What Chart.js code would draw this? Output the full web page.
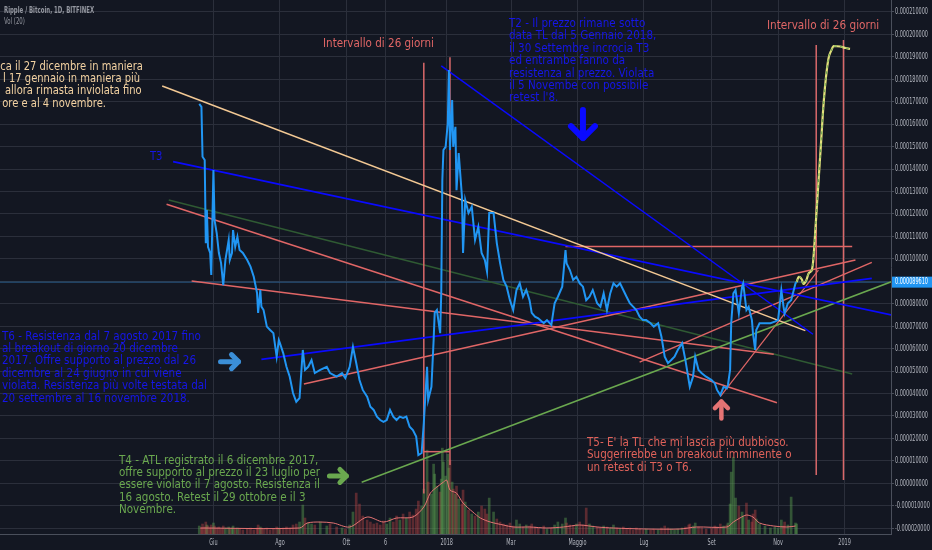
<!DOCTYPE html>
<html>
<head>
  <meta charset="UTF-8" />
  <title>Ripple / Bitcoin, 1D, BITFINEX</title>
  <style>
    html, body {
      margin: 0;
      padding: 0;
      background-color: #131722;
      overflow: hidden;
    }
    #wrap {
      position: relative;
      width: 932px;
      height: 550px;
      overflow: hidden;
    }
    canvas {
      position: absolute;
      left: 0;
      top: 0;
    }
    .note {
      position: absolute;
      white-space: pre;
      font-family: "DejaVu Sans", sans-serif;
      font-size: 12px;
      line-height: 12.4px;
      transform: scaleX(0.865);
      transform-origin: 0 0;
    }
    .right {
      text-align: right;
      transform: scaleX(0.83);
      transform-origin: 100% 0;
    }
    .hdr {
      position: absolute;
      white-space: pre;
      font-family: "DejaVu Sans", sans-serif;
      font-size: 9px;
      color: #9598a1;
      transform: scaleX(0.6);
      transform-origin: 0 0;
    }
  </style>
  <script src="https://cdn.jsdelivr.net/npm/chart.js"></script>
</head>
<body>

<div id="wrap">
  <canvas id="chart" width="932" height="550"></canvas>

  <div class="hdr" style="left:4px; top:5px; font-weight:bold;">Ripple / Bitcoin, 1D, BITFINEX</div>
  <div class="hdr" style="left:4px; top:16px;">Vol (20)</div>

  <!-- cream note, cut at the left border -->
  <div class="note right" style="right:789px; top:59.8px; color:#f3d2a2;">ca il 27 dicembre in maniera</div>
  <div class="note right" style="right:792px; top:72.2px; color:#f3d2a2;">l 17 gennaio in maniera più</div>
  <div class="note right" style="right:790px; top:84.4px; color:#f3d2a2;">allora rimasta inviolata fino</div>
  <div class="note right" style="right:826px; top:96.6px; color:#f3d2a2;">ore e al 4 novembre.</div>

  <div class="note" style="left:509px; top:17px; color:#1616e8;">T2 - Il prezzo rimane sotto
data TL dal 5 Gennaio 2018,
il 30 Settembre incrocia T3
ed entrambe fanno da
resistenza al prezzo. Violata
il 5 Novembe con possibile
retest l'8.</div>

  <div class="note" style="left:150px; top:150px; font-size:13px; color:#1616e8; transform:scaleX(0.77);">T3</div>

  <div class="note" style="left:2px; top:329.5px; color:#1616e8;">T6 - Resistenza dal 7 agosto 2017 fino
al breakout di giorno 20 dicembre
2017. Offre supporto al prezzo dal 26
dicembre al 24 giugno in cui viene
violata. Resistenza più volte testata dal
20 settembre al 16 novembre 2018.</div>

  <div class="note" style="left:119px; top:453.8px; line-height:12.3px; color:#6aa84f;">T4 - ATL registrato il 6 dicembre 2017,
offre supporto al prezzo il 23 luglio per
essere violato il 7 agosto. Resistenza il
16 agosto. Retest il 29 ottobre e il 3
Novembre.</div>

  <div class="note" style="left:587px; top:435.5px; line-height:12.5px; color:#e0625a;">T5- E' la TL che mi lascia più dubbioso.
Suggerirebbe un breakout imminente o
un retest di T3 o T6.</div>

  <div class="note" style="left:322.7px; top:37px; font-size:12.5px; color:#e06666; transform:scaleX(0.83);">Intervallo di 26 giorni</div>
  <div class="note" style="left:767px; top:19px; font-size:12.5px; color:#e06666; transform:scaleX(0.84);">Intervallo di 26 giorni</div>
</div>

<script>
// ---- price (XRP/BTC, satoshi) ----
const priceDates = [
  "2017-05-19","2017-05-21","2017-05-22","2017-05-24","2017-05-25","2017-05-26","2017-05-27","2017-05-29","2017-05-30","2017-06-01",
  "2017-06-02","2017-06-04","2017-06-06","2017-06-08","2017-06-10","2017-06-12","2017-06-15","2017-06-16","2017-06-18","2017-06-19",
  "2017-06-21","2017-06-23","2017-06-25","2017-06-28","2017-07-02","2017-07-05","2017-07-08","2017-07-11","2017-07-12","2017-07-14",
  "2017-07-15","2017-07-17","2017-07-20","2017-07-23","2017-07-26","2017-07-29","2017-07-31","2017-08-01","2017-08-04","2017-08-07",
  "2017-08-10","2017-08-13","2017-08-16","2017-08-19","2017-08-22","2017-08-24","2017-08-27","2017-08-30","2017-09-02","2017-09-07",
  "2017-09-13","2017-09-16","2017-09-22","2017-09-27","2017-09-30","2017-10-04","2017-10-07","2017-10-10","2017-10-13","2017-10-16",
  "2017-10-20","2017-10-23","2017-10-26","2017-10-29","2017-11-01","2017-11-04","2017-11-07","2017-11-10","2017-11-13","2017-11-16",
  "2017-11-19","2017-11-22","2017-11-25","2017-11-28","2017-12-01","2017-12-04","2017-12-06","2017-12-09","2017-12-11","2017-12-14",
  "2017-12-15","2017-12-18","2017-12-20","2017-12-21","2017-12-23","2017-12-26","2017-12-27","2017-12-28","2017-12-29","2017-12-31",
  "2018-01-02","2018-01-03","2018-01-04","2018-01-06","2018-01-07","2018-01-09","2018-01-10","2018-01-12","2018-01-15","2018-01-16",
  "2018-01-18","2018-01-21","2018-01-24","2018-01-27","2018-01-30","2018-02-02","2018-02-05","2018-02-07","2018-02-09","2018-02-13",
  "2018-02-16","2018-02-19","2018-02-22","2018-02-25","2018-02-28","2018-03-03","2018-03-06","2018-03-09","2018-03-12","2018-03-15",
  "2018-03-18","2018-03-20","2018-03-23","2018-03-26","2018-03-31","2018-04-03","2018-04-07","2018-04-10","2018-04-13","2018-04-17",
  "2018-04-20","2018-04-21","2018-04-24","2018-04-27","2018-04-30","2018-05-03","2018-05-06","2018-05-09","2018-05-12","2018-05-15",
  "2018-05-19","2018-05-22","2018-05-25","2018-05-28","2018-05-31","2018-06-03","2018-06-06","2018-06-09","2018-06-12","2018-06-15",
  "2018-06-18","2018-06-21","2018-06-24","2018-06-27","2018-06-30","2018-07-03","2018-07-07","2018-07-10","2018-07-14","2018-07-17",
  "2018-07-20","2018-07-23","2018-07-26","2018-07-29","2018-08-01","2018-08-05","2018-08-08","2018-08-11","2018-08-12","2018-08-15",
  "2018-08-17","2018-08-20","2018-08-23","2018-08-27","2018-09-01","2018-09-04","2018-09-06","2018-09-09","2018-09-12","2018-09-15",
  "2018-09-16","2018-09-18","2018-09-19","2018-09-21","2018-09-23","2018-09-26","2018-09-29","2018-09-30","2018-10-03","2018-10-05",
  "2018-10-08","2018-10-09","2018-10-11","2018-10-12","2018-10-15","2018-10-20","2018-10-25","2018-10-29","2018-11-01","2018-11-04",
  "2018-11-06","2018-11-07","2018-11-10","2018-11-13","2018-11-17","2018-11-18"
];
const priceValues = [
  16900,16770,14550,14400,10700,12170,10540,10260,9280,13960,
  11730,11150,10260,9810,8830,9950,10840,9950,10260,11280,
  10540,10980,10390,10260,9950,9650,9200,8480,7590,8610,
  7870,7720,6980,6830,6690,5640,6380,6250,5800,5190,
  4750,4020,3630,3800,5940,5050,5190,5490,4910,5050,
  5190,4910,4750,4910,4690,5190,6080,5360,4600,4160,
  3860,3410,3270,2970,2820,2740,2820,3270,2970,2820,
  2970,2910,2970,2520,2370,2080,1260,1350,2690,5190,
  3710,4300,6380,7590,7720,6690,8480,13510,14850,14990,
  16050,18410,14850,17070,14990,15880,13060,14710,12770,10260,
  12620,12040,12320,10840,11430,10260,9950,9430,12040,12040,
  10690,9810,9060,8760,8160,7720,8610,8910,8310,8610,
  8160,7590,7420,7350,7130,7270,7050,8020,8310,8760,
  10390,9800,9500,9060,9200,8910,8760,8160,8310,8610,
  8020,7870,8460,7720,8460,8910,8760,8910,8610,8310,
  8020,7870,7720,7420,7270,7270,7130,6980,7130,6530,
  5640,5350,5490,5640,5940,6240,5490,4600,4300,4750,
  5640,5050,4900,4750,4600,4450,4160,3930,4300,4230,
  4380,5050,7130,8460,8610,7570,8760,8910,7720,7870,
  7270,6680,5940,6830,7130,7130,7130,7200,7270,8610,
  7870,7570,8020,8160,8910,8961
];
// volume (millions XRP), same days as the price
const volumeValues = [
  16,12,20,14,24,18,16,12,18,22,
  16,12,14,10,16,12,14,10,12,16,
  10,12,10,8,10,12,8,12,18,14,
  12,10,12,8,10,14,12,10,12,14,
  12,18,20,24,58,32,22,20,18,24,
  16,20,14,12,10,18,44,82,60,36,
  28,24,20,22,18,26,20,32,24,36,
  28,40,32,44,38,50,66,56,90,168,
  104,80,140,120,96,84,110,172,144,116,
  160,132,148,104,90,80,96,70,60,88,
  64,48,40,36,44,56,50,40,72,44,
  30,24,20,18,22,16,28,20,14,18,
  16,20,14,12,16,10,12,18,24,20,
  32,22,18,16,20,24,18,52,20,16,
  14,12,16,14,12,18,12,10,14,10,
  12,8,12,10,8,10,8,10,8,12,
  16,12,10,8,10,12,14,18,20,16,
  22,14,12,10,12,16,14,20,16,18,
  22,60,124,154,72,56,44,36,62,28,
  24,40,48,30,20,16,12,14,12,28,
  16,24,18,74,22,20
];
// Vol (20) moving average
const volMaDates = [
  "2017-05-20","2017-08-19","2017-08-26","2017-09-07","2017-09-19","2017-10-04","2017-10-20","2017-11-04","2017-11-16","2017-12-01",
  "2017-12-11","2017-12-17","2017-12-23","2017-12-29","2018-01-01","2018-01-04","2018-01-10","2018-01-16","2018-01-25","2018-02-01",
  "2018-02-10","2018-02-22","2018-03-03","2018-03-18","2018-04-03","2018-04-18","2018-05-03","2018-05-19","2018-06-03","2018-07-03",
  "2018-08-03","2018-08-18","2018-09-15","2018-09-21","2018-09-27","2018-10-03","2018-10-09","2018-10-15","2018-10-28","2018-11-09",
  "2018-11-17"
];
const volMaValues = [
  12,12,22,24,22,14,34,24,32,34,
  54,82,94,104,108,88,82,62,44,32,
  24,18,14,14,12,14,18,14,12,10,
  10,14,14,24,32,38,34,22,16,14,
  16
];

// hand-drawn projection after the last candle
const projDates = ["2018-11-18","2018-11-20","2018-11-23","2018-11-24","2018-11-27","2018-11-29","2018-12-01","2018-12-02","2018-12-03","2018-12-04",
                   "2018-12-05","2018-12-08","2018-12-10","2018-12-13","2018-12-17","2018-12-20","2018-12-22","2018-12-28","2019-01-02","2019-01-06"];
const projValues = [8961,9200,9060,8880,9060,9350,9430,9500,9800,10390,
                    11140,13380,14850,17070,18860,19300,19480,19460,19390,19350];

// trendlines: [date, satoshi] end points
const lineT1 = [["2017-04-15", 17700], ["2018-11-26", 6800]];
const lineT2 = [["2017-12-27", 18600], ["2018-12-03", 6640]];
const lineT3 = [["2017-04-25", 14330], ["2019-02-13", 7500]];
const lineT6 = [["2017-07-15", 5520], ["2019-01-26", 9130]];
const lineT4 = [["2017-10-15", 45], ["2019-02-13", 8980]];
const lineT5 = [["2018-09-09", 3860], ["2018-12-08", 9500]];
const lineDarkGreen = [["2017-04-21", 12620], ["2019-01-08", 4870]];
const lineRedA = [["2017-04-19", 12430], ["2018-10-31", 3590]];
const lineRedB = [["2017-05-12", 9010], ["2018-10-28", 5750]];
const lineRedC = [["2017-08-23", 4420], ["2019-01-11", 9950]];
const lineRedD = [["2018-06-27", 5400], ["2019-01-26", 9840]];
const lineRedFlat = [["2018-04-20", 10550], ["2019-01-08", 10550]];
// the two "26 giorni" intervals
const gapLeftStart = [["2017-12-11", 18730], ["2017-12-11", -450]];
const gapLeftEnd = [["2018-01-04", 18980], ["2018-01-04", 820]];
const gapLeftBase = [["2017-12-11", 1410], ["2018-01-04", 1410]];
const gapRightStart = [["2018-12-06", 19520], ["2018-12-06", 370]];
const gapRightEnd = [["2018-12-31", 19750], ["2018-12-31", 150]];

const lastPrice = 8961;
const lastPriceSpan = ["2016-11-17", "2019-02-13"];

// arrows: tip date and value
const arrowDates = ["2018-05-06", "2017-06-24", "2017-10-01", "2018-09-10"];
const arrowValues = [15380, 5420, 330, 3640];

// axes
const xTickDates = ["2017-06-01","2017-08-01","2017-10-01","2017-11-06","2018-01-01","2018-03-01","2018-05-01","2018-07-01","2018-09-01","2018-11-01","2019-01-01"];
const xTickLabels = ["Giu","Ago","Ott","6","2018","Mar","Maggio","Lug","Set","Nov","2019"];
const yTicks = [-2000,-1000,0,1000,2000,3000,4000,5000,6000,7000,8000,9000,10000,11000,12000,13000,14000,15000,16000,17000,18000,19000,20000,21000];

// ---- helpers ----
const DAY_MS = 864e5;
const BASE = Date.UTC(2018, 0, 1);
function day(s) {
    const [y, m, d] = s.split("-").map(Number);
    return (Date.UTC(y, m - 1, d) - BASE) / DAY_MS;
}
function pts(pairs) {
    return pairs.map(p => ({ x: day(p[0]), y: p[1] }));
}
function fmt(v) {
    return (v / 1e8).toFixed(9);
}

const GRID = "#2b2f3b";
const AXIS = "#4a4f5b";
const RED = "#e06666";
const BLUE = "#0a0aff";

function trend(pairs, color, width, order) {
    return {
        type: "line",
        data: pts(pairs),
        borderColor: color,
        borderWidth: width,
        pointRadius: 0,
        tension: 0,
        order: order || 5
    };
}

const volColors = volumeValues.map((v, i) =>
    (i === 0 || priceValues[i] >= priceValues[i - 1]) ? "rgba(92,160,80,0.45)" : "rgba(190,70,70,0.42)");

const datasets = [
    {
        type: "line",
        data: priceDates.map((d, i) => ({ x: day(d), y: priceValues[i] })),
        borderColor: "#2196f3",
        borderWidth: 2,
        pointRadius: 0,
        tension: 0,
        order: 0
    },
    {
        type: "line",
        data: projDates.map((d, i) => ({ x: day(d), y: projValues[i] })),
        borderColor: "#6aa84f",
        borderWidth: 1,
        borderDash: [3, 3],
        pointRadius: 0,
        cubicInterpolationMode: "monotone",
        order: 1
    },
    {
        type: "line",
        data: projDates.map((d, i) => ({ x: day(d), y: projValues[i] })),
        borderColor: "#e4e07c",
        borderWidth: 2.2,
        pointRadius: 0,
        cubicInterpolationMode: "monotone",
        order: 2
    },
    trend(lineT1, "#f3c994", 1.5),
    trend(lineT2, BLUE, 1.5),
    trend(lineT3, BLUE, 1.8),
    trend(lineT6, BLUE, 1.8),
    trend(lineT4, "#6aa84f", 1.5),
    trend(lineT5, RED, 1.2),
    trend(lineDarkGreen, "#2f5a33", 1.5, 6),
    trend(lineRedA, RED, 1.5),
    trend(lineRedB, RED, 1.5),
    trend(lineRedC, RED, 1.5),
    trend(lineRedD, RED, 1.5),
    trend(lineRedFlat, RED, 1.5),
    trend(gapLeftStart, "#d9686a", 1.5),
    trend(gapLeftEnd, "#d9686a", 1.5),
    trend(gapLeftBase, "#d9686a", 1.5),
    trend(gapRightStart, "#d9686a", 1.5),
    trend(gapRightEnd, "#d9686a", 1.5),
    trend([[lastPriceSpan[0], lastPrice], [lastPriceSpan[1], lastPrice]], "#2a5b88", 1, 7),
    {
        type: "line",
        yAxisID: "yv",
        data: volMaDates.map((d, i) => ({ x: day(d), y: volMaValues[i] })),
        borderColor: "#e57373",
        borderWidth: 1,
        pointRadius: 0,
        tension: 0.3,
        order: 8
    },
    {
        type: "bar",
        yAxisID: "yv",
        data: priceDates.map((d, i) => ({ x: day(d), y: volumeValues[i] })),
        backgroundColor: volColors,
        barThickness: 2,
        order: 9
    }
];

// arrow styles
const arrowDirs = ["down", "right", "right", "up"];
const arrowColors = ["#0a0aff", "#3b8fd8", "#6aa84f", "#e57373"];
const arrowLens = [28, 18, 17, 17];
const arrowHeads = [12, 7, 6.5, 6.5];
const arrowWidths = [6, 5, 5, 4.5];

const arrowPlugin = {
    id: "arrows",
    afterDatasetsDraw(chart) {
        const { ctx, scales: { x, y } } = chart;
        ctx.save();
        arrowDates.forEach((d, i) => {
            const tx = x.getPixelForValue(day(d));
            const ty = y.getPixelForValue(arrowValues[i]);
            const dir = { down: [0, 1], up: [0, -1], right: [1, 0] }[arrowDirs[i]];
            const px = -dir[1], py = dir[0];
            const L = arrowLens[i], H = arrowHeads[i];
            ctx.strokeStyle = arrowColors[i];
            ctx.lineWidth = arrowWidths[i];
            ctx.lineCap = "round";
            ctx.lineJoin = "round";
            ctx.beginPath();
            ctx.moveTo(tx - dir[0] * L, ty - dir[1] * L);
            ctx.lineTo(tx, ty);
            ctx.stroke();
            ctx.beginPath();
            ctx.moveTo(tx - dir[0] * H + px * H, ty - dir[1] * H + py * H);
            ctx.lineTo(tx, ty);
            ctx.lineTo(tx - dir[0] * H - px * H, ty - dir[1] * H - py * H);
            ctx.stroke();
        });
        ctx.restore();
    }
};

// TradingView style axis labels (narrow)
const axisLabelPlugin = {
    id: "axisLabels",
    afterDraw(chart) {
        const { ctx, scales: { x, y } } = chart;
        ctx.save();
        ctx.font = '9px "DejaVu Sans"';
        const sx = 33 / ctx.measureText("0.000210000").width;
        ctx.fillStyle = "#b2b5be";
        ctx.textBaseline = "middle";
        ctx.textAlign = "left";
        yTicks.forEach(v => {
            ctx.save();
            ctx.translate(895, y.getPixelForValue(v));
            ctx.scale(sx, 1);
            ctx.fillText(fmt(v), 0, 0);
            ctx.restore();
        });
        ctx.textAlign = "center";
        xTickDates.forEach((d, i) => {
            ctx.save();
            ctx.translate(x.getPixelForValue(day(d)), 543);
            ctx.scale(sx, 1);
            ctx.fillText(xTickLabels[i], 0, 0);
            ctx.restore();
        });
        // last price tag
        const py = y.getPixelForValue(lastPrice);
        ctx.fillStyle = "#2196f3";
        ctx.fillRect(892, py - 5.5, 40, 11);
        ctx.fillStyle = "#ffffff";
        ctx.textAlign = "left";
        ctx.save();
        ctx.translate(895, py);
        ctx.scale(sx, 1);
        ctx.fillText(fmt(lastPrice) , 0, 0);
        ctx.restore();
        ctx.restore();
    }
};

new Chart(document.getElementById("chart").getContext("2d"), {
    type: "line",
    data: { datasets: datasets },
    options: {
        responsive: false,
        animation: false,
        layout: { padding: 0 },
        plugins: { legend: { display: false }, tooltip: { enabled: false } },
        scales: {
            x: {
                type: "linear",
                min: -409.8,
                max: 407.6,
                offset: false,
                afterBuildTicks: s => { s.ticks = xTickDates.map(d => ({ value: day(d) })); },
                afterFit: s => { s.height = 16; },
                ticks: { display: false },
                grid: { color: GRID, offset: false, drawTicks: false },
                border: { color: AXIS }
            },
            y: {
                type: "linear",
                position: "right",
                min: -2258,
                max: 21530,
                afterBuildTicks: s => { s.ticks = yTicks.map(v => ({ value: v })); },
                afterFit: s => { s.width = 41; },
                ticks: { display: false },
                grid: { color: GRID, tickLength: 3, tickColor: AXIS },
                border: { color: AXIS }
            },
            yv: {
                type: "linear",
                display: false,
                min: 0,
                max: 1070
            }
        }
    },
    plugins: [arrowPlugin, axisLabelPlugin]
});
</script>

</body>
</html>
